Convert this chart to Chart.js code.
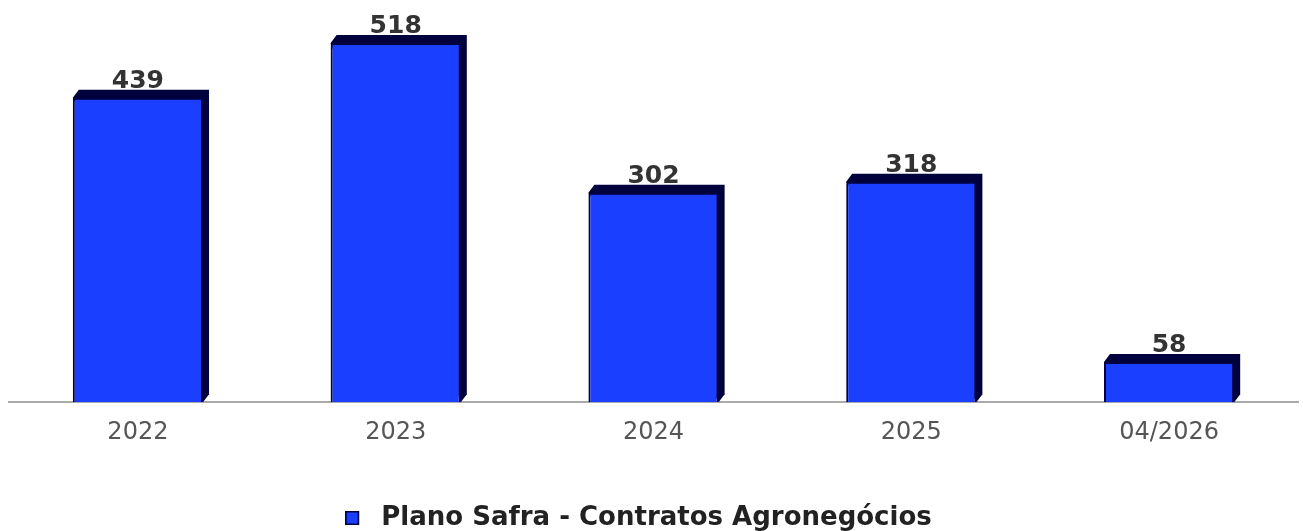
<!DOCTYPE html>
<html>
<head>
<meta charset="utf-8">
<script src="https://cdn.jsdelivr.net/npm/chart.js@4.4.1/dist/chart.umd.min.js"></script>
<style>
  html, body { margin: 0; padding: 0; background: #fff; }
  #wrap { width: 1303px; height: 531px; position: relative; }
</style>
</head>
<body>
<div id="wrap"><canvas id="chart"></canvas></div>
<script>
// data
const categories = ["2022", "2023", "2024", "2025", "04/2026"];
const contratos = [439, 518, 302, 318, 58];
const seriesName = "Plano Safra - Contratos Agronegócios";

const FRONT = "#1b3fff";
const DARK = "#00003d";
const DEPTH_X = 6;
const DEPTH_Y = 8;

// legend marker: small square on a wider transparent canvas so the text sits further right
function legendMarker() {
  const c = document.createElement("canvas");
  c.width = 23;
  c.height = 14;
  const g = c.getContext("2d");
  g.fillStyle = FRONT;
  g.fillRect(0.5, 0.5, 13, 13);
  g.strokeStyle = DARK;
  g.lineWidth = 1.5;
  g.strokeRect(0.75, 0.75, 12.5, 12.5);
  return c;
}

// fake 3d: top and right faces behind each bar, then the value labels
const bars3d = {
  id: "bars3d",
  afterLayout(chart) {
    // legend sits a bit left of centre and lower in the original
    chart.legend.left -= 15;
    chart.legend.right -= 15;
    chart.legend.top += 10;
    chart.legend.bottom += 10;
  },
  beforeDatasetsDraw(chart) {
    const ctx = chart.ctx;
    const meta = chart.getDatasetMeta(0);
    ctx.save();
    ctx.fillStyle = DARK;
    meta.data.forEach((bar) => {
      const p = bar.getProps(["x", "y", "base", "width"], true);
      const l = p.x - p.width / 2;
      const r = p.x + p.width / 2;
      ctx.beginPath();
      ctx.moveTo(l, p.y);
      ctx.lineTo(l + DEPTH_X, p.y - DEPTH_Y);
      ctx.lineTo(r + DEPTH_X, p.y - DEPTH_Y);
      ctx.lineTo(r + DEPTH_X, p.base - DEPTH_Y);
      ctx.lineTo(r, p.base);
      ctx.closePath();
      ctx.fill();
    });
    ctx.restore();
  },
  afterDatasetsDraw(chart) {
    const ctx = chart.ctx;
    const meta = chart.getDatasetMeta(0);
    ctx.save();
    ctx.font = "bold 25px 'DejaVu Sans'";
    ctx.fillStyle = "#333";
    ctx.textAlign = "center";
    ctx.textBaseline = "alphabetic";
    meta.data.forEach((bar, i) => {
      const p = bar.getProps(["x", "y"], true);
      ctx.fillText(String(contratos[i]), p.x, p.y - DEPTH_Y - 2);
    });
    ctx.restore();
  },
};

const marker = legendMarker();

new Chart(document.getElementById("chart"), {
  type: "bar",
  data: {
    labels: categories,
    datasets: [
      {
        label: seriesName,
        data: contratos,
        backgroundColor: FRONT,
        borderColor: DARK,
        borderWidth: 2,
        borderSkipped: "bottom",
        barPercentage: 0.505,
        categoryPercentage: 1,
        pointStyle: marker,
      },
    ],
  },
  options: {
    responsive: true,
    maintainAspectRatio: false,
    animation: false,
    devicePixelRatio: 1,
    layout: { padding: { left: 9, right: 5, top: 0, bottom: 0 } },
    scales: {
      x: {
        grid: { display: false, drawTicks: false },
        border: { display: true, color: "#aaa", width: 2 },
        ticks: {
          color: "#555",
          font: { family: "'DejaVu Sans'", size: 24 },
          padding: 16,
        },
        afterFit(scale) {
          scale.height += 22;
        },
      },
      y: {
        display: false,
        min: 0,
        max: 580,
      },
    },
    plugins: {
      tooltip: { enabled: false },
      legend: {
        position: "bottom",
        labels: {
          usePointStyle: true,
          pointStyleWidth: 23,
          color: "#222",
          font: { family: "'DejaVu Sans'", size: 26, weight: "bold" },
          padding: 10,
        },
      },
    },
  },
  plugins: [bars3d],
});
</script>
</body>
</html>
